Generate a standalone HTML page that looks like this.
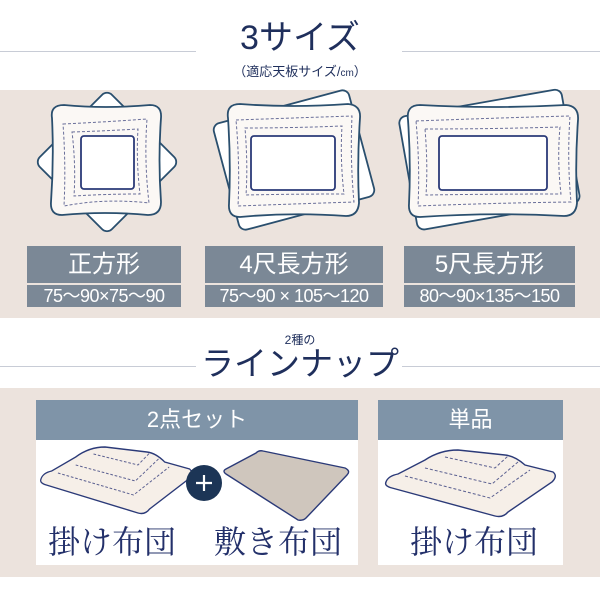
<!DOCTYPE html>
<html><head><meta charset="utf-8"><style>
body{margin:0;width:600px;height:600px;background:#fff;position:relative;overflow:hidden;font-family:"Liberation Sans","Noto Sans CJK JP",sans-serif}
.a{position:absolute}
.lbl{position:absolute;background:#7b8896;color:#fff;text-align:center}
.num{font-size:18px;line-height:22px;letter-spacing:-0.5px;white-space:nowrap}
</style></head><body>
<div class="a" style="left:0;top:51px;width:196px;height:1px;background:#c8ccd6"></div>
<div class="a" style="left:402px;top:51px;width:198px;height:1px;background:#c8ccd6"></div>
<div class="a" style="left:200px;top:18px;width:200px;text-align:center;font-size:34px;color:#1f2f5c;line-height:40px">3サイズ</div>
<div class="a" style="left:200px;top:61px;width:200px;text-align:center;font-size:13px;color:#1f2f5c">（適応天板サイズ/<span style="font-size:10px">cm</span>）</div>
<div class="a" style="left:0;top:90px;width:600px;height:228px;background:#ece3dd"></div>

<svg class="a" style="left:0;top:0" width="600" height="320">
<g stroke="#2a4f6e" stroke-width="1.8" fill="#fff">
<rect x="56" y="111" width="102" height="102" rx="7" transform="rotate(45 107 162)"/>
<rect x="224" y="105" width="140" height="110" rx="7" transform="rotate(-15 294 160)"/>
<rect x="407" y="102" width="165" height="115" rx="7" transform="rotate(-10 490 160)"/>
<path d="M52 118 Q50 105 64 105 Q105 109 150 105 Q162 105 161 118 Q158 160 161 202 Q161 215 148 215 Q105 211 62 215 Q50 215 51 202 Q54 160 52 118Z" fill="#fbf8f5"/>
<path d="M228 118 Q226 104 240 104 Q292 108 348 104 Q361 105 360 118 Q357 162 359 203 Q358 216 346 216 Q292 212 240 217 Q228 217 229 204 Q231 162 228 118Z" fill="#fbf8f5"/>
<path d="M408 120 Q406 105 420 105 Q493 109 566 105 Q579 106 578 120 Q575 162 577 203 Q576 216 564 216 Q493 212 420 217 Q408 217 409 204 Q411 162 408 120Z" fill="#fbf8f5"/>
</g>
<g stroke="#6a6f9a" stroke-width="1" fill="none" stroke-dasharray="3 2">
<path d="M63 124 Q105 122 147 119 Q144 160 149 203 Q105 198 64 206 Q66 165 63 124Z"/>
<path d="M72 132 Q105 131 138 129 Q136 160 140 194 Q105 194 74 196 Q76 165 72 132Z"/>
<path d="M236 120 Q292 118 352 116 Q350 160 354 202 Q292 204 238 206 Q240 165 236 120Z"/>
<path d="M245 128 Q292 128 342 126 Q340 160 344 194 Q292 194 246 195 Q248 165 245 128Z"/>
<path d="M416 121 Q493 118 570 116 Q567 160 571 202 Q493 203 418 206 Q420 165 416 121Z"/>
<path d="M425 129 Q493 129 560 127 Q557 160 561 194 Q493 194 426 195 Q428 165 425 129Z"/>
</g>
<g stroke="#2b3a78" stroke-width="1.8" fill="#fff">
<rect x="81" y="136" width="53" height="53" rx="3"/>
<rect x="251" y="136" width="84" height="54" rx="3"/>
<rect x="439" y="136" width="108" height="54" rx="3"/>
</g>
</svg>

<div class="lbl" style="left:27px;top:246px;width:154px;height:37px;font-size:24px;line-height:37px">正方形</div>
<div class="lbl num" style="left:27px;top:285px;width:154px;height:22px">75〜90×75〜90</div>
<div class="lbl" style="left:205px;top:246px;width:178px;height:37px;font-size:24px;line-height:37px">4尺長方形</div>
<div class="lbl num" style="left:205px;top:285px;width:178px;height:22px">75〜90 × 105〜120</div>
<div class="lbl" style="left:404px;top:246px;width:171px;height:37px;font-size:24px;line-height:37px">5尺長方形</div>
<div class="lbl num" style="left:404px;top:285px;width:171px;height:22px">80〜90×135〜150</div>

<div class="a" style="left:0;top:366px;width:196px;height:1px;background:#c8ccd6"></div>
<div class="a" style="left:402px;top:366px;width:198px;height:1px;background:#c8ccd6"></div>
<div class="a" style="left:200px;top:331px;width:200px;text-align:center;font-size:12px;color:#1f2f5c">2種の</div>
<div class="a" style="left:195px;top:345px;width:210px;text-align:center;font-size:33px;color:#1f2f5c;line-height:38px">ラインナップ</div>
<div class="a" style="left:0;top:388px;width:600px;height:189px;background:#ece3dd"></div>
<div class="a" style="left:36px;top:400px;width:322px;height:165px;background:#fff"></div>
<div class="a" style="left:378px;top:400px;width:185px;height:165px;background:#fff"></div>
<div class="lbl" style="left:36px;top:400px;width:322px;height:40px;font-size:22px;line-height:40px;background:#7f94a8">2点セット</div>
<div class="lbl" style="left:378px;top:400px;width:185px;height:40px;font-size:22px;line-height:40px;background:#7f94a8">単品</div>

<svg class="a" style="left:0;top:0" width="600" height="600">
<defs>
<g id="k">
<path d="M386 482 Q388 476 398 474 L425 460 Q440 450 458 450 L505 455 Q515 456 525 465 L553 472 Q558 476 552 482 L508 512 Q503 518 495 516 L392 488 Q384 486 386 482Z" fill="#f6efe8" stroke="#2b3a78" stroke-width="1.4"/>
<g stroke="#5a5f90" stroke-width="1" fill="none" stroke-dasharray="3 2">
<path d="M405 476 L490 498 L530 470"/><path d="M425 468 L492 484 L518 462"/><path d="M445 457 L495 468 L508 456"/>
</g>
</g>
</defs>
<use href="#k"/>
<g transform="translate(41 -3) scale(0.89 1) translate(-386 0)"><use href="#k"/></g>
<path d="M256 453 Q259 450 263 451 L345 468 Q351 471 347 475 L306 518 Q303 521 298 520 L226 474 Q222 471 226 469Z" fill="#cfc6bd" stroke="#2b3a78" stroke-width="1.4"/>
<circle cx="204" cy="483" r="18" fill="#1c3556"/>
<path d="M196 483 H212 M204 475 V491" stroke="#fff" stroke-width="2.2"/>
</svg>

<div class="a" style="left:48px;top:522px;width:140px;font-size:32px;color:#23306a;line-height:40px;font-family:'Liberation Serif','Noto Serif CJK SC',serif">掛け布団</div>
<div class="a" style="left:214px;top:522px;width:140px;font-size:32px;color:#23306a;line-height:40px;font-family:'Liberation Serif','Noto Serif CJK SC',serif">敷き布団</div>
<div class="a" style="left:410px;top:522px;width:140px;font-size:32px;color:#23306a;line-height:40px;font-family:'Liberation Serif','Noto Serif CJK SC',serif">掛け布団</div>
</body></html>
